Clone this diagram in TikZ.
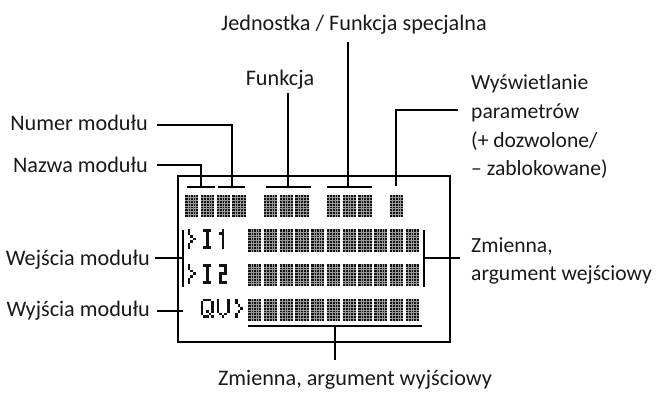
\documentclass[tikz,border=0pt]{standalone}
\usepackage{fontspec}
\setmainfont{Carlito}
\definecolor{lcdink}{HTML}{121212}
\tikzset{
  lbl/.style={inner sep=0pt, font=\fontsize{22.2}{28.7}\selectfont, text=black!90},
  lblr/.style={lbl, font=\fontsize{21.6}{28.7}\selectfont, anchor=base west},
  lead/.style={line width=1.1pt, black},
  lcdgap/.style={line width=0.3pt, black!40},
}
\newcommand{\lcdgrid}[2]{%
  \foreach \i in {1,...,4} \draw[lcdgap] ({#1+\i*2.66},#2) -- ++(0,22.4);
  \foreach \j in {1,...,7} \draw[lcdgap] (#1,{#2+\j*2.8}) -- ++(13.3,0);}
\newcommand{\lcdcell}[2]{%
  \fill[lcdink] (#1,#2) rectangle ++(13.3,22.4);
  \lcdgrid{#1}{#2}}
\newcommand{\lcdglyph}[3]{%
  \foreach \c/\r in #3 \fill[lcdink] ({#1+\c*2.66},{#2+\r*2.8}) rectangle ++(2.66,2.8);}
\begin{document}
\begin{tikzpicture}[x=1pt,y=-1pt]
\useasboundingbox (0,0) rectangle (656,392);

% display frame
\draw[lead] (178,176) rectangle (450,342);

% top row of blocks
\foreach \k in {0,1,2,3,5,6,7,9,10,11,13} {\pgfmathsetmacro\xx{185+15.75*\k}\lcdcell{\xx}{194.5}}
% rows 2-4 blocks
\foreach \yy in {229.2,263.9,298.6} {
  \foreach \k in {4,...,14} {\pgfmathsetmacro\xx{185+15.75*\k}\lcdcell{\xx}{\yy}}}
% glyphs
\def\gGT{1/0,1/1,2/2,3/3,2/4,1/5,1/6}
\def\gI{1/0,2/0,3/0,2/1,2/2,2/3,2/4,2/5,1/6,2/6,3/6}
\def\gOne{2/0,1/1,2/1,2/2,2/3,2/4,2/5,2/6}
\def\gTwo{1/0,2/0,3/0,3/1,3/2,1/3,2/3,3/3,1/4,1/5,1/6,2/6,3/6}
\def\gQ{1/0,2/0,3/0,0/1,4/1,0/2,4/2,0/3,4/3,0/4,2/4,4/4,0/5,3/5,1/6,2/6,4/6}
\def\gV{0/0,4/0,0/1,4/1,0/2,4/2,0/3,4/3,0/4,4/4,1/5,3/5,2/6}
\lcdglyph{185}{229.2}{\gGT}
\lcdglyph{200.75}{229.2}{\gI}
\lcdglyph{216.5}{229.2}{\gOne}
\lcdglyph{185}{263.9}{\gGT}
\lcdglyph{200.75}{263.9}{\gI}
\lcdglyph{216.5}{263.9}{\gTwo}
\lcdglyph{200.75}{298.6}{\gQ}
\lcdglyph{216.5}{298.6}{\gV}
\lcdglyph{232.25}{298.6}{\gGT}

% labels
\node[lbl, anchor=base] (jedn) at (354,30) {Jednostka / Funkcja specjalna};
\node[lbl, anchor=base] (funk) at (280,85) {Funkcja};
\node[lbl, anchor=base east] (numer) at (148,130) {Numer modułu};
\node[lbl, anchor=base east] (nazwa) at (148,172) {Nazwa modułu};
\node[lblr] (wysw1) at (471,89) {Wyświetlanie};
\node[lblr] (wysw2) at (471,118) {parametrów};
\node[lblr] (wysw3) at (471,147) {(+ dozwolone/};
\node[lblr] (wysw4) at (471,175) {– zablokowane)};
\node[lbl, anchor=base east] (wej) at (150,265) {Wejścia modułu};
\node[lbl, anchor=base east] (wyj) at (150,316) {Wyjścia modułu};
\node[lblr] (zmwe1) at (471,252) {Zmienna,};
\node[lblr] (zmwe2) at (471,280) {argument wejściowy};
\node[lbl, anchor=base] (zmwy) at (355,385.5) {Zmienna, argument wyjściowy};

% leader coordinates
\coordinate (jednS) at (348,42);   \coordinate (jednE) at (348,187);
\coordinate (funkS) at (288,93);   \coordinate (funkE) at (288,187);
\coordinate (numS) at (157,125);   \coordinate (numE) at (232,187);
\coordinate (nazS) at (157,165);   \coordinate (nazE) at (201,187);
\coordinate (wysS) at (458,110);   \coordinate (wysE) at (396,186);
\coordinate (wejS) at (155,258);   \coordinate (wejE) at (183,258);
\coordinate (wyjS) at (157,311);   \coordinate (wyjE) at (183,311);
\coordinate (zweS) at (460,258);   \coordinate (zweE) at (424,258);
\coordinate (zwyS) at (335,360);   \coordinate (zwyE) at (335,326);

% leaders
\draw[lead] (jednS) -- (jednE);
\draw[lead] (327,187) -- (372,187);
\draw[lead] (funkS) -- (funkE);
\draw[lead] (266,187) -- (311,187);
\draw[lead] (numS) -| (numE);
\draw[lead] (218,187) -- (245,187);
\draw[lead] (nazS) -| (nazE);
\draw[lead] (187,187) -- (215,187);
\draw[lead] (wysS) -| (wysE);
\draw[lead] (wejS) -- (wejE);
\draw[lead] (183,230) -- (183,287);
\draw[lead] (wyjS) -- (wyjE);
\draw[lead] (zweS) -- (zweE);
\draw[lead] (424,230) -- (424,287);
\draw[lead] (zwyS) -- (zwyE);
\draw[lead] (248,326) -- (422,326);
\end{tikzpicture}
\end{document}
